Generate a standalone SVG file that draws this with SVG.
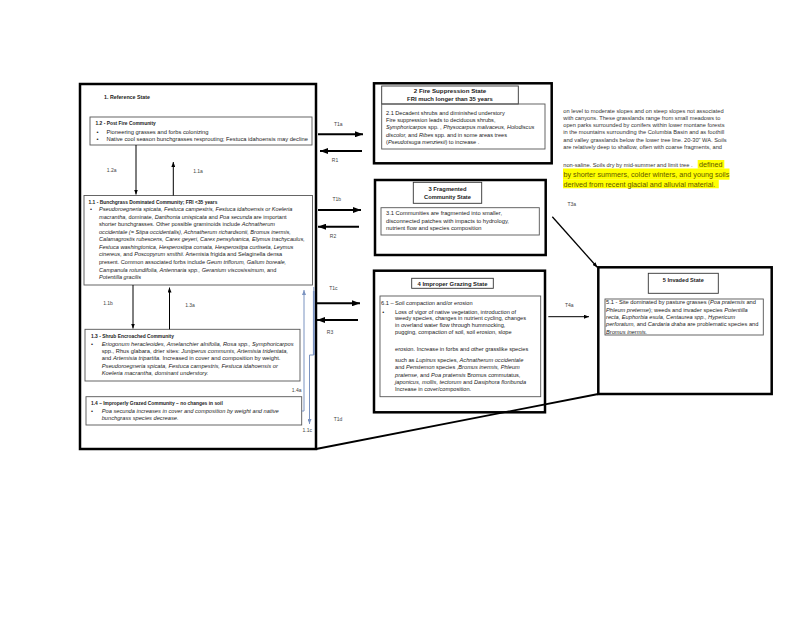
<svg xmlns="http://www.w3.org/2000/svg" width="800" height="618" viewBox="0 0 800 618">
<defs>
<style>
svg{font-family:"Liberation Sans",Arial,sans-serif;font-size:5.75px}
text{fill:#222}
.b{font-weight:bold;font-size:5.3px}
.tb{font-weight:bold;font-size:4.9px}
.st{font-weight:bold;text-anchor:middle}
.i{font-style:italic}
.lbl{font-size:5px;fill:#444;text-anchor:middle}
.big{fill:#fff;stroke:#000;stroke-width:2.5}
.inner{fill:none;stroke:#555;stroke-width:0.9}
.tbox{fill:#fff;stroke:#333;stroke-width:0.9}
.thick{stroke:#000;stroke-width:2;fill:none}
.thin{stroke:#000;stroke-width:1;fill:none}
.blue{stroke:#7b93c0;stroke-width:1;fill:none}
.hl{fill:#ffff00}
.hlt{font-size:7.2px;fill:#5f5600}
.rt{font-size:5.7px;fill:#333}
</style>
<marker id="ah" markerWidth="8" markerHeight="6" refX="8" refY="3" orient="auto" markerUnits="userSpaceOnUse"><path d="M0,0 L8,3 L0,6 Z" fill="#000"/></marker>
<marker id="as" markerWidth="5" markerHeight="4" refX="5" refY="2" orient="auto" markerUnits="userSpaceOnUse"><path d="M0,0 L5,2 L0,4 Z" fill="#000"/></marker>
<marker id="ab" markerWidth="5" markerHeight="4" refX="5" refY="2" orient="auto" markerUnits="userSpaceOnUse"><path d="M0,0 L5,2 L0,4 Z" fill="#7b93c0"/></marker>
</defs>
<rect width="800" height="618" fill="#fff"/>

<g id="reference-state">
<rect class="big" x="80" y="84" width="236" height="365"/>
<text class="b" x="104" y="98.6">1. Reference State</text>
</g>

<g id="c12" style="font-size:5.75px">
<rect class="inner" x="90" y="117" width="222" height="28"/>
<text class="tb" x="95.5" y="125.2">1.2 - Post Fire Community</text>
<text x="96.5" y="133.5">•</text><text x="106.5" y="133.5">Pioneering grasses and forbs colonizing</text>
<text x="96.5" y="140.8">•</text><text x="106.5" y="140.8">Native cool season bunchgrasses resprouting; Festuca idahoensis may decline</text>
</g>

<g id="c11" style="font-size:5.6px">
<rect class="inner" x="84" y="195.5" width="228.5" height="89.5"/>
<text class="tb" x="88.5" y="203.5">1.1 - Bunchgrass Dominated Community; FRI &lt;35 years</text>
<text x="90" y="211.1">•</text>
<text x="99" y="211.1" class="i">Pseudoroegneria spicata, Festuca campestris, Festuca idahoensis or Koeleria</text>
<text x="99" y="218.65"><tspan class="i">macrantha,</tspan> dominate, <tspan class="i">Danthonia unispicata</tspan> and <tspan class="i">Poa secunda</tspan> are important</text>
<text x="99" y="226.2">shorter bunchgrasses. Other possible graminoids include <tspan class="i">Achnatherum</tspan></text>
<text x="99" y="233.75" class="i">occidentale (= Stipa occidentalis), Achnatherum richardsonii, Bromus inermis,</text>
<text x="99" y="241.3" class="i">Calamagrostis rubescens, Carex geyeri, Carex pensylvanica, Elymus trachycaulus,</text>
<text x="99" y="248.85" class="i">Festuca washingtonica, Hesperostipa comata, Hesperostipa curtiseta, Leymus</text>
<text x="99" y="256.4"><tspan class="i">cinereus,</tspan> and <tspan class="i">Poscopyrum smithii.</tspan>  Artemisia frigida and Selaginella densa</text>
<text x="99" y="263.95">present. Common associated forbs include <tspan class="i">Geum triflorum, Galium boreale,</tspan></text>
<text x="99" y="271.5"><tspan class="i">Campanula rotundifolia, Antennaria spp., Geranium viscosissimum,</tspan> and</text>
<text x="99" y="279.05" class="i">Potentilla gracilis</text>
</g>

<g id="c13" style="font-size:5.75px">
<rect class="inner" x="85" y="329.3" width="215" height="51.7"/>
<text class="tb" x="91" y="338">1.3 - Shrub Encroached Community</text>
<text x="91" y="345.5">•</text>
<text x="101.7" y="345.5" class="i">Eriogonum heracleoides, Amelanchier alnifolia, Rosa spp., Symphoricarpos</text>
<text x="101.7" y="352.9">spp., Rhus glabara, drier sites: <tspan class="i">Juniperus communis, Artemisia tridentata,</tspan></text>
<text x="101.7" y="360.3">and <tspan class="i">Artemisia tripartita.</tspan> Increased in cover and composition by weight.</text>
<text x="101.7" y="367.7" class="i">Pseudoroegneria spicata, Festuca campestris, Festuca idahoensis or</text>
<text x="101.7" y="375.1" class="i">Koeleria macrantha, dominant understory.</text>
</g>

<g id="c14" style="font-size:5.7px">
<rect class="inner" x="86" y="396.7" width="215.7" height="28.3"/>
<text class="tb" x="91" y="405.2">1.4 – Improperly Grazed Community – no changes in soil</text>
<text x="91" y="412.8">•</text>
<text x="101.7" y="412.8" class="i">Poa secunda increases in cover and composition by weight and native</text>
<text x="101.7" y="420.1" class="i">bunchgrass species decrease.</text>
</g>

<g id="fire-suppression" style="font-size:5.6px">
<rect class="big" x="374" y="83.3" width="177.7" height="80"/>
<rect class="tbox" x="381.7" y="86" width="136.6" height="18"/>
<text class="st" x="450" y="93.2" style="font-size:6.2px">2 Fire Suppression State</text>
<text class="st" x="450" y="101.2" style="font-size:5.9px">FRI much longer than 35 years</text>
<rect class="inner" x="381.7" y="104" width="163.3" height="45"/>
<text x="386" y="114.5">2.1 Decadent shrubs and diminished understory</text>
<text x="386" y="122">Fire suppression leads to deciduous shrubs,</text>
<text x="386" y="129.4"><tspan class="i">Symphoricarpos</tspan> spp. , <tspan class="i">Physocarpus malvaceus, Holodiscus</tspan></text>
<text x="386" y="136.8"><tspan class="i">discolor,</tspan> and <tspan class="i">Ribes</tspan> spp. and in some areas trees</text>
<text x="386" y="144.3">(<tspan class="i">Pseudotsuga menziesii</tspan>) to increase .</text>
</g>

<g id="fragmented" style="font-size:5.75px">
<rect class="big" x="375" y="180" width="170.7" height="75"/>
<rect class="tbox" x="413.3" y="182.3" width="68.4" height="21"/>
<text class="st" x="447.5" y="191" style="font-size:5.8px">3 Fragmented</text>
<text class="st" x="447.5" y="199.3" style="font-size:5.7px">Community State</text>
<rect class="inner" x="381" y="207.7" width="158.3" height="27.3"/>
<text x="386" y="215.1">3.1 Communities are fragmented into smaller,</text>
<text x="386" y="222.5">disconnected patches with impacts to hydrology,</text>
<text x="386" y="230">nutrient flow and species composition</text>
</g>

<g id="improper-grazing" style="font-size:5.65px">
<rect class="big" x="374" y="270.7" width="171" height="141.6"/>
<rect class="tbox" x="411.7" y="278.3" width="81.6" height="10"/>
<text class="st" x="452.5" y="285.5" style="font-size:5.9px">4 Improper Grazing State</text>
<rect class="inner" x="380" y="296" width="160.7" height="100.7"/>
<text x="381" y="305.1">6.1 – Soil compaction and/or erosion</text>
<text x="382.3" y="313.5">•</text>
<text x="395" y="313.5">Loss of vigor of native vegetation, introduction of</text>
<text x="395" y="320.1">weedy species, changes in nutrient cycling, changes</text>
<text x="395" y="327.1">in overland water flow through hummocking,</text>
<text x="395" y="334.1">pugging, compaction of soil, soil erosion, slope</text>
<text x="395" y="350.8">erosion.  Increase in forbs and other grasslike species</text>
<text x="395" y="361.8">such as <tspan class="i">Lupinus</tspan> species, <tspan class="i">Achnatherum occidentale</tspan></text>
<text x="395" y="369.1">and <tspan class="i">Penstemon</tspan> species ,<tspan class="i">Bromus inermis, Phleum</tspan></text>
<text x="395" y="376.8"><tspan class="i">pratense,</tspan> and <tspan class="i">Poa pratensis</tspan> Bromus commutatus,</text>
<text x="395" y="383.5"><tspan class="i">japonicus, mollis, tectorum</tspan> and <tspan class="i">Dasiphora floribunda</tspan></text>
<text x="395" y="390.6">Increase in cover/composition.</text>
</g>

<g id="invaded" style="font-size:5.7px">
<rect class="big" x="598.3" y="267.3" width="173.4" height="126.7"/>
<rect class="tbox" x="648.3" y="273.3" width="70" height="20"/>
<text class="st" x="683.3" y="282" style="font-size:5.6px">5 Invaded State</text>
<rect class="inner" x="605" y="299" width="158.3" height="36"/>
<text x="606" y="304.1">5.1 - Site dominated by pasture grasses (<tspan class="i">Poa pratensis</tspan> and</text>
<text x="606" y="311.5"><tspan class="i">Phleum pretense</tspan>); weeds and invader species <tspan class="i">Potentilla</tspan></text>
<text x="606" y="318.8" class="i">recta, Euphorbia esula, Centaurea spp., Hypericum</text>
<text x="606" y="326.1"><tspan class="i">perforatum,</tspan> and <tspan class="i">Cardaria draba</tspan> are problematic species and</text>
<text x="606" y="333.5" class="i">Bromus inermis.</text>
</g>

<g id="description">
<text class="rt" x="563.3" y="112.8">on level to moderate slopes and on steep slopes not associated</text>
<text class="rt" x="563.3" y="120.1">with canyons. These grasslands range from small meadows to</text>
<text class="rt" x="563.3" y="127.1">open parks surrounded by conifers within lower montane forests</text>
<text class="rt" x="563.3" y="134.1">in the mountains surrounding the Columbia Basin and as foothill</text>
<text class="rt" x="563.3" y="141.5">and valley grasslands below the lower tree line. 20-30” WA. Soils</text>
<text class="rt" x="563.3" y="148.5">are relatively deep to shallow, often with coarse fragments, and</text>
<text class="rt" x="563.3" y="166.8">non-saline. Soils dry by mid-summer and limit tree .</text>
<rect class="hl" x="697.7" y="160" width="26.6" height="8.6"/>
<rect class="hl" x="563" y="168.5" width="166.5" height="11.2"/>
<rect class="hl" x="563" y="179.7" width="155.8" height="8.6"/>
<text class="hlt" x="699" y="166.6">defined</text>
<text class="hlt" x="563.5" y="177.4">by shorter summers, colder winters, and young soils</text>
<text class="hlt" x="563.5" y="186.6">derived from recent glacial and alluvial material.</text>
</g>

<g id="connectors">
<line class="thin" x1="136" y1="145" x2="136" y2="194.5" marker-end="url(#as)"/>
<line class="thin" x1="173.3" y1="195.5" x2="173.3" y2="162" marker-end="url(#as)"/>
<line class="thin" x1="133" y1="285" x2="133" y2="328.5" marker-end="url(#as)"/>
<line class="thin" x1="169.5" y1="329.3" x2="169.5" y2="287.5" marker-end="url(#as)"/>
<path class="blue" d="M301.7 411 H304 V290" marker-end="url(#ab)"/>
<path class="blue" d="M313.8 287 V355 H309.5 V424" marker-end="url(#ab)"/>
<line x1="313.8" y1="291" x2="313.8" y2="355" stroke="#7b93c0" stroke-width="1.8"/>
<line class="thick" x1="318" y1="134.3" x2="363" y2="134.3" marker-end="url(#ah)"/>
<line class="thick" x1="362" y1="151" x2="320" y2="151" marker-end="url(#ah)"/>
<line class="thick" x1="318" y1="210" x2="361" y2="210" marker-end="url(#ah)"/>
<line class="thick" x1="359" y1="226.7" x2="318" y2="226.7" marker-end="url(#ah)"/>
<line class="thick" x1="317" y1="303.3" x2="360" y2="303.3" marker-end="url(#ah)"/>
<line class="thick" x1="358" y1="320" x2="317" y2="320" marker-end="url(#ah)"/>
<line x1="552.3" y1="216.7" x2="597.3" y2="267.3" stroke="#000" stroke-width="1.3" marker-end="url(#as)"/>
<line class="thin" x1="548.3" y1="316.7" x2="589" y2="316.7" marker-end="url(#as)"/>
<line x1="316" y1="449" x2="598.3" y2="394" stroke="#000" stroke-width="1.8"/>
<text class="lbl" x="111.7" y="171.7">1.2a</text>
<text class="lbl" x="198" y="173.4">1.1a</text>
<text class="lbl" x="108" y="305">1.1b</text>
<text class="lbl" x="190" y="307.4">1.3a</text>
<text class="lbl" x="296.7" y="392.4">1.4a</text>
<text class="lbl" x="307.3" y="431.7">1.1c</text>
<text class="lbl" x="338" y="421">T1d</text>
<text class="lbl" x="338.3" y="125.7">T1a</text>
<text class="lbl" x="335" y="161.7">R1</text>
<text class="lbl" x="336.7" y="201">T1b</text>
<text class="lbl" x="333" y="237.7">R2</text>
<text class="lbl" x="333.3" y="290">T1c</text>
<text class="lbl" x="330" y="334.4">R3</text>
<text class="lbl" x="571.7" y="206">T3a</text>
<text class="lbl" x="569.3" y="306.7">T4a</text>
</g>
</svg>
